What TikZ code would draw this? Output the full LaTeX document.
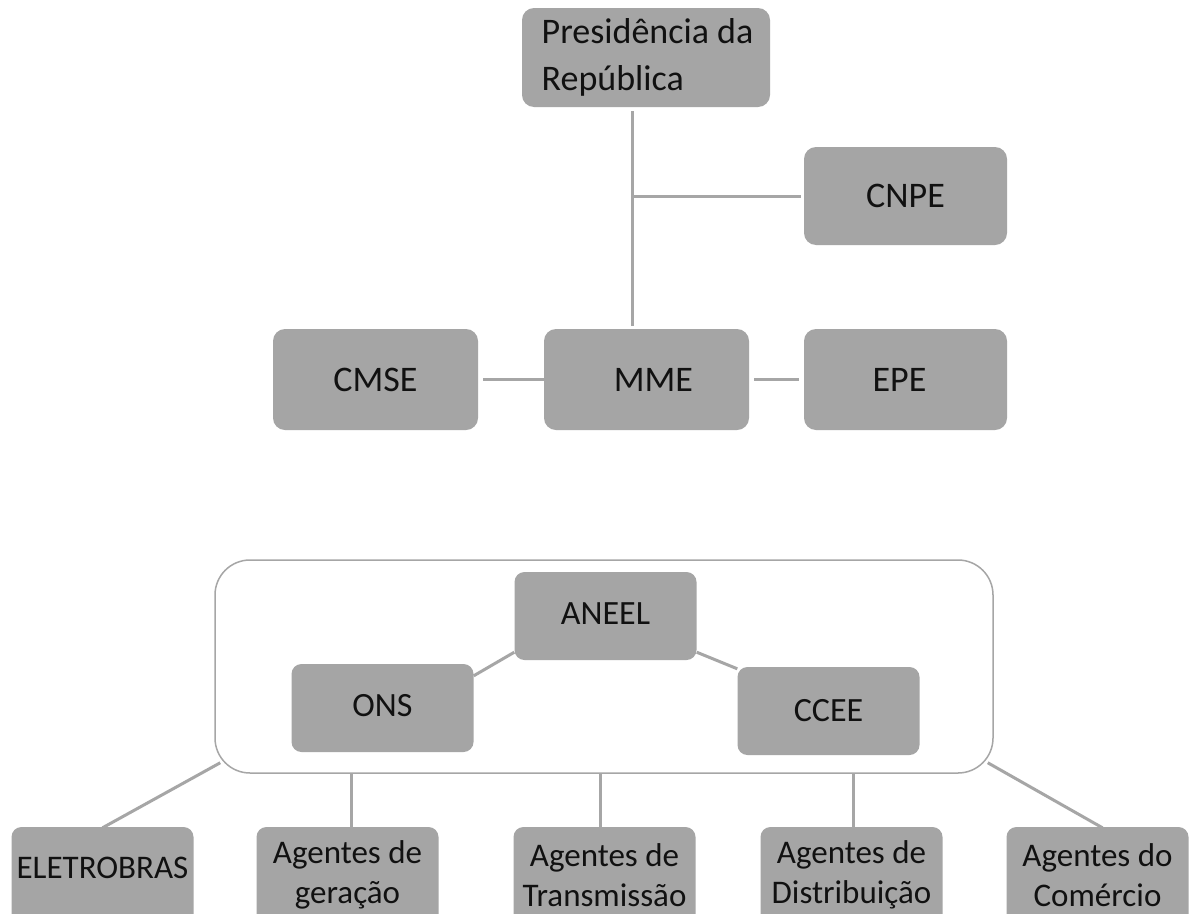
\documentclass[tikz,border=0pt]{standalone}
\usepackage{fontspec}
\setmainfont{Carlito}
\definecolor{boxgray}{HTML}{A5A5A5}
\definecolor{linegray}{HTML}{A6A6A6}
\definecolor{txt}{HTML}{111111}
\begin{document}
\begin{tikzpicture}[x=1pt,y=-1pt,
  topbox/.style={fill=boxgray, rounded corners=12pt, inner sep=0pt, align=center, text=txt,
    font=\fontsize{36}{47}\selectfont},
  midbox/.style={fill=boxgray, rounded corners=10pt, inner sep=0pt, align=center, text=txt,
    font=\fontsize{34}{40}\selectfont, minimum width=182pt, minimum height=88pt},
  lowbox/.style={fill=boxgray, rounded corners=10pt, inner sep=0pt, minimum width=182pt, minimum height=100pt},
  lowtext/.style={align=center, text=txt, font=\fontsize{33}{40}\selectfont},
  conn/.style={draw=linegray, line width=3pt}]
\useasboundingbox (0,0) rectangle (1191,913);
\fill[white] (0,0) rectangle (1191,913);

% top part
\node[topbox, align=left, minimum width=248pt, minimum height=99pt] (pres) at (646,57.5) {\hspace{3pt}Presidência da\\\hspace{3pt}República};
\node[topbox, minimum width=203pt, minimum height=98pt] (cnpe) at (905.5,196) {CNPE};
\node[topbox, minimum width=205pt, minimum height=101pt] (cmse) at (375.5,379.5) {CMSE};
\node[topbox, minimum width=205pt, minimum height=101pt] (mme) at (646.5,379.5) {\hspace{14pt}MME};
\node[topbox, minimum width=203pt, minimum height=101pt] (epe) at (905.5,379.5) {EPE\hspace{12pt}};

\coordinate (j) at (632,196);
\draw[conn] ([yshift=-4pt]j |- pres.south) -- ([yshift=3pt]j |- mme.north);
\draw[conn] (j) -- ([xshift=-3pt]cnpe.west);
\draw[conn, shorten <=5pt] (cmse.east) -- (mme.west);
\draw[conn, shorten <=5pt, shorten >=5pt] (mme.east) -- (epe.west);

% container
\node[draw=linegray, line width=1.5pt, fill=white, rounded corners=35pt, minimum width=778pt, minimum height=213pt] (cont) at (604,666.5) {};
\node[midbox] (aneel) at (605.5,616) {\raisebox{4pt}{ANEEL}};
\node[midbox] (ons) at (382.5,708) {\raisebox{5pt}{ONS}};
\node[midbox] (ccee) at (828.5,711) {CCEE};
\draw[conn] ([yshift=8pt]aneel.south west) -- ([yshift=-12pt]ons.north east);
\draw[conn] ([yshift=8pt]aneel.south east) -- ([yshift=-2pt]ccee.north west);

% bottom row
\node[lowbox, label={[lowtext, yshift=9pt]center:ELETROBRAS}] (ele) at (102.5,877) {};
\node[lowbox, label={[lowtext, yshift=2pt]center:Agentes de\\geração}] (ger) at (347.5,877) {};
\node[lowbox, label={[lowtext, yshift=2pt]center:Agentes de\\Transmissão}] (tra) at (604.5,877) {};
\node[lowbox, label={[lowtext, yshift=2pt]center:Agentes de\\Distribuição}] (dis) at (851.5,877) {};
\node[lowbox, label={[lowtext, yshift=2pt]center:Agentes do\\Comércio}] (com) at (1097.5,877) {};

\draw[conn] ([xshift=6pt,yshift=11pt]cont.south west) -- ([yshift=-1pt]ele.north);
\draw[conn] ([xshift=3.5pt]cont.south -| ger.north) -- ([xshift=3.5pt,yshift=-1pt]ger.north);
\draw[conn] ([xshift=-4.5pt]cont.south -| tra.north) -- ([xshift=-4.5pt,yshift=-1pt]tra.north);
\draw[conn] ([xshift=1.5pt]cont.south -| dis.north) -- ([xshift=1.5pt,yshift=-1pt]dis.north);
\draw[conn] ([xshift=-6pt,yshift=11pt]cont.south east) -- ([xshift=5pt,yshift=-1pt]com.north);
\end{tikzpicture}
\end{document}
